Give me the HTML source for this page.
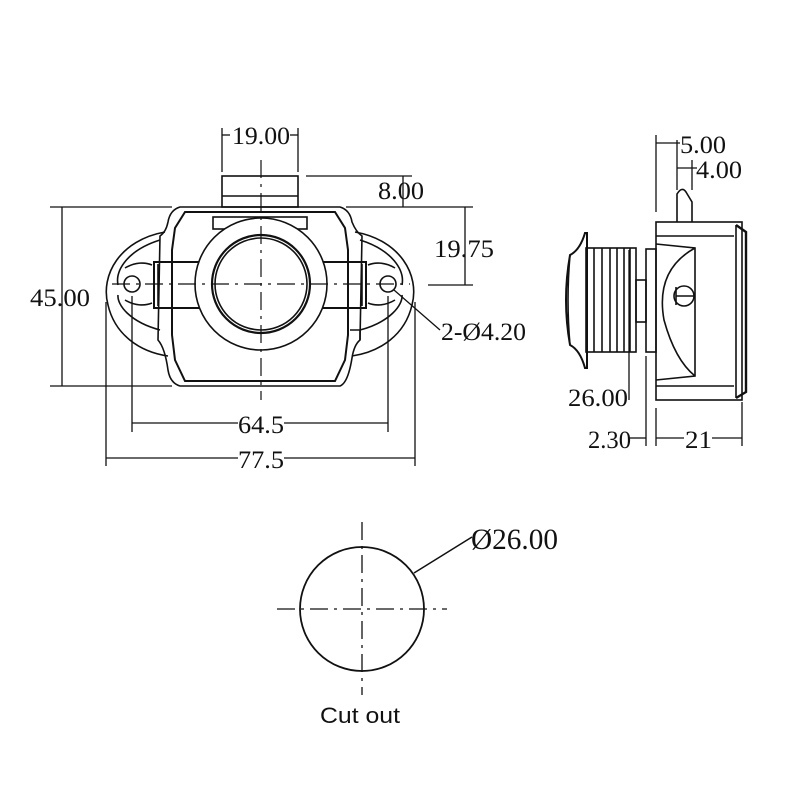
<!DOCTYPE html>
<html><head><meta charset="utf-8"><style>
html,body{margin:0;padding:0;background:#fff;width:800px;height:800px;overflow:hidden}
svg{display:block}
text{font-family:"Liberation Serif",serif;fill:#111;font-size:25px}
</style></head><body>
<svg width="800" height="800" viewBox="0 0 800 800" xmlns="http://www.w3.org/2000/svg">
<g fill="none" stroke="#111" stroke-width="1.6">
<!-- FRONT VIEW -->
<path d="M165,232 C120,240 100,275 108,305 C115,335 140,352 168,356"/>
<path d="M355,232 C400,240 420,275 412,305 C405,335 380,352 352,356"/>
<path d="M160,240 C128,250 115,270 118,285 M160,330 C130,322 117,305 118,295"/>
<path d="M360,240 C392,250 405,270 402,285 M360,330 C390,322 403,305 402,295"/>
<path d="M125,268 C135,262 145,262 152,265 M125,300 C135,306 145,306 152,303"/>
<path d="M395,268 C385,262 375,262 368,265 M395,300 C385,306 375,306 368,303"/>
<path d="M180,207 L340,207 Q350,210 352,222 Q356,232 362,236 L360,340 Q354,345 352,358 Q348,383 340,386 L180,386 Q170,383 168,370 Q165,348 158,340 L160,236 Q166,232 168,222 Q170,210 180,207 Z"/>
<path d="M185,212 L335,212 L345,228 L348,250 L348,335 L345,360 L335,381 L185,381 L175,360 L172,335 L172,250 L175,228 Z" stroke-width="2"/>
<rect x="213" y="217" width="94" height="12"/>
<rect x="154" y="262" width="212" height="46" stroke-width="2"/>
<line x1="158" y1="264" x2="158" y2="306"/><line x1="362" y1="264" x2="362" y2="306"/>
<circle cx="261" cy="284" r="66" fill="#fff"/>
<circle cx="261" cy="284" r="49" stroke-width="2.2"/>
<circle cx="261" cy="284" r="46"/>
<circle cx="132" cy="284" r="8"/><circle cx="388" cy="284" r="8"/>
<path d="M350,330 L360,330 L360,340"/>
<rect x="222" y="176" width="76" height="31"/>
<line x1="222" y1="196" x2="298" y2="196"/>
<g stroke-dasharray="18,6,3,6" stroke-width="1.2">
<line x1="261" y1="160" x2="261" y2="400"/>
<line x1="112" y1="284" x2="410" y2="284"/>
</g>
<g stroke-width="1.3">
<line x1="222" y1="128" x2="222" y2="172"/><line x1="298" y1="128" x2="298" y2="172"/>
<line x1="222" y1="135" x2="230" y2="135"/><line x1="290" y1="135" x2="298" y2="135"/>
<line x1="306" y1="176" x2="412" y2="176"/><line x1="403" y1="176" x2="403" y2="207"/>
<line x1="346" y1="207" x2="473" y2="207"/><line x1="428" y1="285" x2="473" y2="285"/>
<line x1="465" y1="207" x2="465" y2="285"/>
<line x1="50" y1="207" x2="172" y2="207"/><line x1="50" y1="386" x2="172" y2="386"/>
<line x1="62" y1="207" x2="62" y2="386"/>
<line x1="132" y1="296" x2="132" y2="432"/><line x1="388" y1="296" x2="388" y2="432"/>
<line x1="132" y1="423" x2="238" y2="423"/><line x1="284" y1="423" x2="388" y2="423"/>
<line x1="106" y1="302" x2="106" y2="466"/><line x1="415" y1="302" x2="415" y2="466"/>
<line x1="106" y1="458" x2="238" y2="458"/><line x1="284" y1="458" x2="415" y2="458"/>
<line x1="394" y1="290" x2="440" y2="330"/>
</g>
<!-- SIDE VIEW -->
<rect x="656" y="222" width="86" height="178"/>
<path d="M736,225 L746,232 L746,392 L736,398" stroke-width="2.4"/>
<line x1="736" y1="225" x2="736" y2="398"/>
<line x1="656" y1="236" x2="734" y2="236"/><line x1="656" y1="386" x2="734" y2="386"/>
<path d="M656,244 L695,248 L695,376 L656,380"/>
<path d="M695,248 Q655,270 664,320 Q675,360 695,376"/>
<circle cx="684" cy="296" r="10"/><line x1="676" y1="296" x2="694" y2="296"/><line x1="676" y1="287" x2="676" y2="305"/>
<path d="M677,222 L677,194 Q682,186 686,192 L692,202 L692,222"/>
<rect x="646" y="249" width="10" height="103"/>
<rect x="636" y="280" width="10" height="42"/>
<rect x="586" y="248" width="50" height="104"/>
<line x1="594" y1="248" x2="594" y2="352"/><line x1="602" y1="248" x2="602" y2="352"/><line x1="610" y1="248" x2="610" y2="352"/><line x1="617" y1="248" x2="617" y2="352"/><line x1="624" y1="248" x2="624" y2="352"/><line x1="630" y1="248" x2="630" y2="352"/>
<path d="M585,233 L587,233 L587,368 L585,368 Q580,350 570,345 Q562,300 570,255 Q580,250 585,233 Z" stroke-width="2"/>
<path d="M570,255 Q566,300 570,345"/>
<g stroke-width="1.3">
<line x1="656" y1="135" x2="656" y2="212"/><line x1="656" y1="143" x2="680" y2="143"/>
<line x1="677" y1="140" x2="677" y2="190"/><line x1="692" y1="160" x2="692" y2="190"/>
<line x1="677" y1="168" x2="697" y2="168"/>
<line x1="629" y1="250" x2="629" y2="400"/>
<line x1="646" y1="356" x2="646" y2="446"/><line x1="656" y1="408" x2="656" y2="446"/>
<line x1="742" y1="402" x2="742" y2="446"/>
<line x1="630" y1="438" x2="646" y2="438"/><line x1="656" y1="438" x2="684" y2="438"/><line x1="712" y1="438" x2="742" y2="438"/>
</g>
<!-- CUT OUT -->
<circle cx="362" cy="609" r="62" stroke-width="1.8"/>
<g stroke-dasharray="18,6,3,6" stroke-width="1.3">
<line x1="277" y1="609" x2="447" y2="609"/>
<line x1="362" y1="522" x2="362" y2="695"/>
</g>
<line x1="414" y1="573" x2="472" y2="537" stroke-width="1.5"/>
</g>
<g>
<text x="232" y="144" textLength="58" lengthAdjust="spacingAndGlyphs">19.00</text>
<text x="378" y="199" textLength="46" lengthAdjust="spacingAndGlyphs">8.00</text>
<text x="434" y="257" textLength="60" lengthAdjust="spacingAndGlyphs">19.75</text>
<text x="30" y="306" textLength="60" lengthAdjust="spacingAndGlyphs">45.00</text>
<text x="441" y="340" textLength="85" lengthAdjust="spacingAndGlyphs">2-Ø4.20</text>
<text x="238" y="433" textLength="46" lengthAdjust="spacingAndGlyphs">64.5</text>
<text x="238" y="468" textLength="46" lengthAdjust="spacingAndGlyphs">77.5</text>
<text x="680" y="153" textLength="46" lengthAdjust="spacingAndGlyphs">5.00</text>
<text x="696" y="178" textLength="46" lengthAdjust="spacingAndGlyphs">4.00</text>
<text x="568" y="406" textLength="60" lengthAdjust="spacingAndGlyphs">26.00</text>
<text x="588" y="448" textLength="43" lengthAdjust="spacingAndGlyphs">2.30</text>
<text x="685" y="448" textLength="27" lengthAdjust="spacingAndGlyphs">21</text>
<text x="471" y="549" style="font-size:30px" textLength="87" lengthAdjust="spacingAndGlyphs">Ø26.00</text>
<text x="320" y="723" style="font-family:'Liberation Sans',sans-serif;font-size:22px" textLength="80" lengthAdjust="spacingAndGlyphs">Cut out</text>
</g>
</svg>
</body></html>
